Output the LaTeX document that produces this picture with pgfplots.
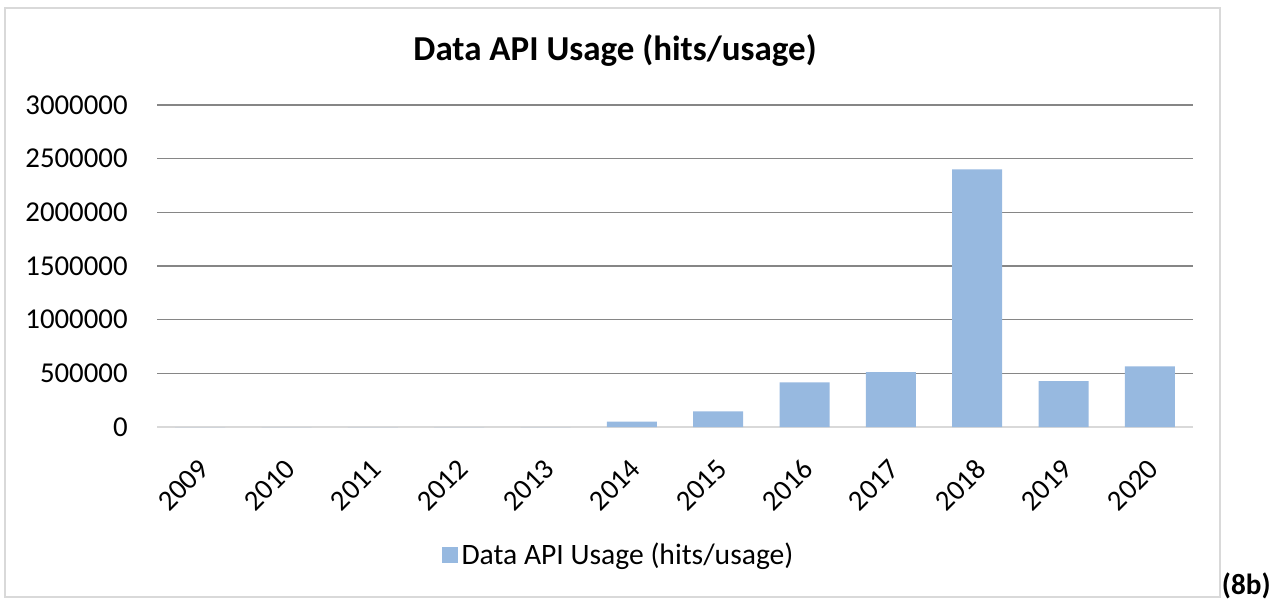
\documentclass[border=0pt]{standalone}
\usepackage{fontspec}
\setmainfont{Carlito}
\usepackage{pgfplots}
\pgfplotsset{compat=1.18}
\definecolor{barblue}{HTML}{97B9E0}
\definecolor{gridgray}{HTML}{868686}
\definecolor{framegray}{HTML}{D9D9D9}

\pgfplotstableread{
idx year hits
0  2009 0
1  2010 0
2  2011 0
3  2012 0
4  2013 0
5  2014 50000
6  2015 145000
7  2016 415000
8  2017 512000
9  2018 2400000
10 2019 428000
11 2020 566000
}\apidata

\begin{document}
\begin{tikzpicture}
\useasboundingbox (0,0) rectangle (636.5pt,300.5pt);
% outer chart frame
\draw[framegray, line width=0.75pt] (2.5pt,2pt) rectangle (610pt,296.5pt);
\node[font=\fontsize{17.5}{20}\selectfont\bfseries] at (307.5pt,275.5pt)
  {Data API Usage (hits/usage)};
\node[font=\fontsize{14.6}{17}\selectfont\bfseries, anchor=base east, inner sep=0pt]
  at (635.5pt,3.5pt) {(8b)};

\begin{axis}[
  at={(78.5pt,87pt)}, anchor=south west,
  scale only axis, width=518pt, height=161pt,
  xmin=-0.5, xmax=11.5, ymin=0, ymax=3000000,
  enlargelimits=false,
  ybar, bar width=25pt,
  axis line style={draw=none},
  major tick length=0pt,
  xtick={0,...,11},
  xticklabels={2009,2010,2011,2012,2013,2014,2015,2016,2017,2018,2019,2020},
  ytick={500000,1000000,1500000,2000000,2500000,3000000},
  extra y ticks={0},
  extra y tick style={grid style={color=framegray, line width=1pt}},
  ymajorgrids,
  grid style={color=gridgray, line width=0.8pt},
  scaled y ticks=false,
  /pgf/number format/fixed,
  /pgf/number format/1000 sep={},
  /pgf/number format/assume math mode=true,
  tick label style={font=\fontsize{14.4}{17}\selectfont, inner sep=0pt},
  yticklabel style={anchor=east, xshift=-14.5pt},
  xticklabel style={xshift=-1.5pt, yshift=-15pt, rotate=45, anchor=north east},
  legend style={at={(0.4464,-0.3975)}, anchor=center, draw=none,
    font=\fontsize{14.8}{17}\selectfont, fill=none},
  legend image code/.code={\fill[barblue] (0pt,-4pt) rectangle (8pt,4pt);},
]
\addplot[fill=barblue, draw=none] table[x=idx, y=hits] {\apidata};
\addlegendentry{Data API Usage (hits/usage)}
\end{axis}
\end{tikzpicture}
\end{document}
